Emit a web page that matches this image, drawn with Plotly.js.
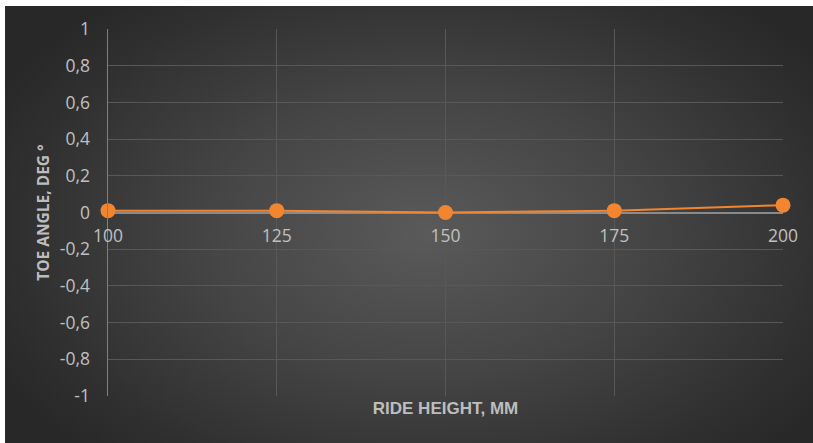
<!DOCTYPE html>
<html>
<head>
<meta charset="utf-8">
<script src="https://cdn.plot.ly/plotly-3.0.1.min.js"></script>
<style>
  html, body { margin: 0; padding: 0; background: #ffffff; width: 813px; height: 443px; overflow: hidden; }
  #bg { position: absolute; left: 5px; top: 6px; width: 808px; height: 437px;
        background: radial-gradient(ellipse 60% 70% at 52% 52%, #5a5a5a 0%, #454545 45%, #2f2f2f 85%, #282828 100%); }
  #chart { position: absolute; left: 0; top: 0; width: 813px; height: 443px; }
</style>
</head>
<body>
<div id="bg"></div>
<div id="chart"></div>
<script>
const rideHeight = [100, 125, 150, 175, 200];
const toeAngle = [0.01, 0.01, 0.00, 0.01, 0.04];
const xTickLabels = ['100', '125', '150', '175', '200'];
const yTickVals = [-1, -0.8, -0.6, -0.4, -0.2, 0, 0.2, 0.4, 0.6, 0.8, 1];
const yTickLabels = ['-1', '-0,8', '-0,6', '-0,4', '-0,2', '0', '0,2', '0,4', '0,6', '0,8', '1'];

const orange = '#f28530';
const grid = '#585858';
const tickFont = { family: 'Open Sans, Liberation Sans, sans-serif', size: 17.5, color: '#c0c0c0' };

const traces = [
  {
    x: rideHeight, y: toeAngle, xaxis: 'x', yaxis: 'y',
    mode: 'lines', line: { width: 0 }, opacity: 0, hoverinfo: 'skip', showlegend: false
  },
  {
    x: rideHeight, y: toeAngle, xaxis: 'x2', yaxis: 'y',
    mode: 'lines+markers',
    line: { color: orange, width: 2 },
    marker: { color: orange, size: 15 },
    cliponaxis: false,
    showlegend: false
  }
];

const layout = {
  width: 813, height: 443,
  paper_bgcolor: 'rgba(0,0,0,0)',
  plot_bgcolor: 'rgba(0,0,0,0)',
  margin: { l: 108, r: 30, t: 29, b: 47, pad: 0 },
  showlegend: false,
  xaxis: {
    range: [100, 200],
    tickvals: rideHeight,
    showticklabels: false,
    ticks: '',
    showgrid: true, gridcolor: grid, gridwidth: 1,
    zeroline: false, showline: false,
    title: { text: 'RIDE HEIGHT, MM', standoff: 6,
             font: { family: 'Liberation Sans Narrow, Arial Narrow, sans-serif', size: 17, color: '#bdbdbd', weight: 'bold' } }
  },
  xaxis2: {
    overlaying: 'x', matches: 'x', anchor: 'free', position: 0.5,
    range: [100, 200],
    tickvals: rideHeight, ticktext: xTickLabels,
    ticks: '', ticklabelstandoff: 11,
    showgrid: false, zeroline: false, showline: false,
    tickfont: tickFont
  },
  yaxis: {
    range: [-1, 1],
    tickvals: yTickVals, ticktext: yTickLabels,
    ticks: '', ticklabelstandoff: 13,
    showgrid: true, gridcolor: grid, gridwidth: 1,
    zeroline: true, zerolinecolor: '#8a8a8a', zerolinewidth: 2,
    showline: true, linecolor: '#808080', linewidth: 1.5,
    tickfont: tickFont,
    title: { text: 'TOE ANGLE, DEG °', standoff: 6,
             font: { family: 'Open Sans, DejaVu Sans, sans-serif', size: 15.5, color: '#bdbdbd', weight: 'bold' } }
  }
};

Plotly.newPlot('chart', traces, layout, { displayModeBar: false, staticPlot: true });
</script>
</body>
</html>
